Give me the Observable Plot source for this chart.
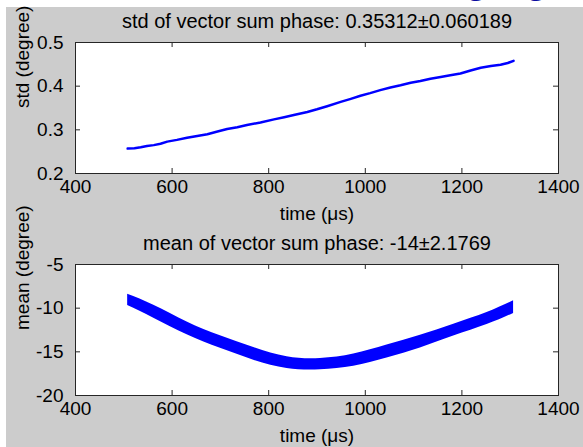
<!DOCTYPE html>
<html><head><meta charset="utf-8">
<script src="https://cdn.jsdelivr.net/npm/d3@7"></script>
<script src="https://cdn.jsdelivr.net/npm/@observablehq/plot@0.6"></script>
<style>
body{margin:0;background:#fff;}
#wrap{position:relative;width:583px;height:447px;overflow:hidden;background:#fff;font-family:Arial,"Liberation Sans",Helvetica,sans-serif;}
#slide{position:absolute;left:464px;top:-46px;font-size:45px;line-height:1;color:#0b0ba0;white-space:nowrap;}
#fig{position:absolute;left:6px;top:7px;width:577px;height:440px;background:#cccccc;}
.p{position:absolute;left:0;}
</style></head><body>
<div id="wrap"><div id="slide">ging</div><div id="fig"></div><div id="top" class="p" style="top:0"></div><div id="bot" class="p" style="top:222px"></div></div>
<script>
// top panel: std of vector sum phase (degree) vs time (µs)
const stdTime  = [508, 522, 535, 548, 562, 576, 590, 610, 631, 652, 673, 694, 714, 735, 755, 783, 811, 832, 852, 880, 900, 921, 949, 970, 990, 1010, 1031, 1052, 1073, 1094, 1114, 1135, 1156, 1176, 1197, 1218, 1239, 1260, 1280, 1295, 1307];
const stdValue = [0.257, 0.258, 0.260, 0.263, 0.265, 0.268, 0.273, 0.277, 0.282, 0.286, 0.290, 0.296, 0.302, 0.306, 0.311, 0.317, 0.324, 0.329, 0.334, 0.341, 0.347, 0.354, 0.364, 0.371, 0.378, 0.384, 0.391, 0.397, 0.402, 0.408, 0.412, 0.417, 0.421, 0.425, 0.429, 0.436, 0.442, 0.446, 0.449, 0.453, 0.458];
// bottom panel: mean of vector sum phase (degree), band of traces
const meanTime  = [508, 562, 631, 700, 769, 838, 907, 976, 1045, 1114, 1183, 1252, 1307];
const meanUpper = [-8.40, -9.66, -11.57, -13.17, -14.51, -15.57, -15.77, -15.26, -14.23, -13.09, -11.83, -10.50, -9.16];
const meanLower = [-9.70, -11.15, -13.05, -14.60, -15.95, -16.90, -17.05, -16.65, -15.70, -14.55, -13.20, -11.88, -10.60];
const xTicks = [400, 600, 800, 1000, 1200, 1400];
const stdTicks = [0.2, 0.3, 0.4, 0.5];
const meanTicks = [-20, -15, -10, -5];
const stdTitle = "std of vector sum phase: 0.35312\u00B10.060189";
const meanTitle = "mean of vector sum phase: -14\u00B12.1769";
const xLabel = "time (\u03BCs)";
const stdLabel = "std (degree)";
const meanLabel = "mean (degree)";

const ink = "#262626";
function panel({yDomain, yTicks, title, ylabel, marks}) {
  const W = 583, H = 225, mt = 42, mb = 52, ml = 75, mr = 25;
  const fw = W - ml - mr, fh = H - mt - mb;
  return Plot.plot({
    width: W, height: H, marginTop: mt, marginBottom: mb, marginLeft: ml, marginRight: mr,
    style: {background: "transparent", fontFamily: "Arial, 'Liberation Sans', Helvetica, sans-serif", fontSize: "19px", color: "black", overflow: "visible"},
    x: {domain: [400, 1400]},
    y: {domain: yDomain},
    marks: [
      Plot.frame({fill: "white"}),
      ...marks,
      Plot.ruleX(xTicks, {x: d => d, stroke: ink, insetTop: fh - 5}),
      Plot.ruleX(xTicks, {x: d => d, stroke: ink, insetBottom: fh - 5}),
      Plot.ruleY(yTicks, {y: d => d, stroke: ink, insetRight: fw - 5}),
      Plot.ruleY(yTicks, {y: d => d, stroke: ink, insetLeft: fw - 5}),
      Plot.frame({stroke: ink}),
      Plot.axisX(xTicks, {tickSize: 0, tickPadding: 6, tickFormat: d => String(d), label: null}),
      Plot.axisY(yTicks, {tickSize: 0, tickPadding: 12, tickFormat: d => String(d), label: null}),
      Plot.text([title], {text: d => d, frameAnchor: "top", dy: -21, lineAnchor: "middle", fontSize: 20}),
      Plot.text([xLabel], {text: d => d, frameAnchor: "bottom", dy: 40, lineAnchor: "middle"}),
      Plot.text([ylabel], {text: d => d, frameAnchor: "left", dx: -53, rotate: -90, lineAnchor: "middle"})
    ]
  });
}

document.getElementById("top").append(panel({
  yDomain: [0.2, 0.5], yTicks: stdTicks, title: stdTitle, ylabel: stdLabel,
  marks: [Plot.line(stdTime, {x: stdTime, y: stdValue, stroke: "#0000ff", strokeWidth: 2.5})]
}));
document.getElementById("bot").append(panel({
  yDomain: [-20, -5], yTicks: meanTicks, title: meanTitle, ylabel: meanLabel,
  marks: [Plot.areaY(meanTime, {x: meanTime, y1: meanLower, y2: meanUpper, fill: "#0000ff", curve: "natural"})]
}));
</script>
</body></html>
